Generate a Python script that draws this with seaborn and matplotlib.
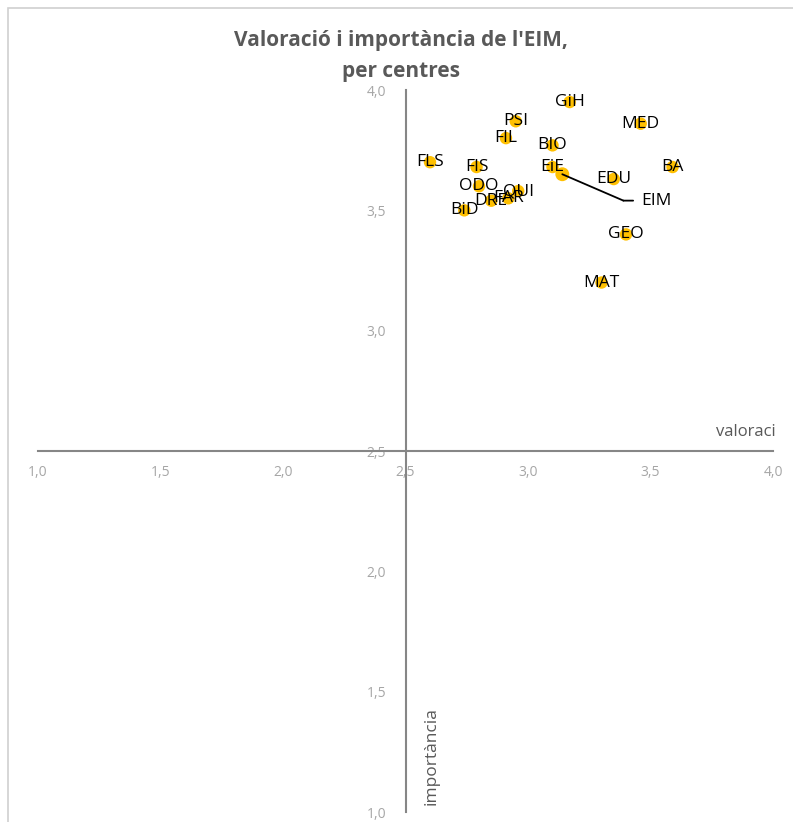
import matplotlib
matplotlib.use("Agg")
import matplotlib.pyplot as plt
import matplotlib.transforms as mtransforms
from matplotlib.patches import Rectangle
import seaborn as sns
import pandas as pd

# centres: valoració (x) i importància (y)
centres = ["GiH", "PSI", "MED", "FIL", "BIO", "FLS", "FIS", "EiE", "BA", "EDU",
           "ODO", "QUI", "FAR", "DRE", "BiD", "GEO", "MAT"]
valoracio = [3.17, 2.95, 3.46, 2.91, 3.10, 2.60, 2.79, 3.10, 3.59, 3.35,
             2.80, 2.96, 2.92, 2.85, 2.74, 3.40, 3.30]
importancia = [3.95, 3.87, 3.86, 3.80, 3.77, 3.70, 3.68, 3.68, 3.68, 3.63,
               3.60, 3.58, 3.55, 3.54, 3.50, 3.40, 3.20]

# global de l'EIM
eim_label = "EIM"
eim_valoracio = 3.14
eim_importancia = 3.65

ticks = [1.0, 1.5, 2.0, 2.5, 3.0, 3.5, 4.0]
tick_labels = ["1,0", "1,5", "2,0", "2,5", "3,0", "3,5", "4,0"]

df = pd.DataFrame({"centre": centres, "valoracio": valoracio, "importancia": importancia})

sns.set_style("white")
plt.rcParams["font.family"] = ["Open Sans", "DejaVu Sans"]

gold = "#FFC000"
axis_grey = "#868686"
tick_grey = "#A6A6A6"
text_grey = "#595959"

fig = plt.figure(figsize=(7.93, 8.22), dpi=100)
ax = fig.add_axes([38 / 793, 1 - 812 / 822, (773 - 38) / 793, (812 - 90) / 822])

# chart border like excel
fig.patches.append(Rectangle((8 / 793, -0.1), 1.2, 1 - 8 / 822 + 0.1, transform=fig.transFigure,
                             fill=False, edgecolor="#D0D0D0", linewidth=1.2))

sns.scatterplot(data=df, x="valoracio", y="importancia", ax=ax, color=gold, s=80,
                edgecolor="none", zorder=3, legend=False)
ax.scatter([eim_valoracio], [eim_importancia], color=gold, s=100, edgecolor="none", zorder=3)

for name, xv, yv in zip(centres, valoracio, importancia):
    ax.text(xv, yv, name, ha="center", va="center", fontsize=12.5, color="black", zorder=4)

# EIM label with leader line
line_kw = dict(arrowstyle="-", shrinkA=0, shrinkB=0, color="black", lw=1.3)
ax.annotate("", xy=(eim_valoracio, eim_importancia), xytext=(44, -19),
            textcoords="offset points", arrowprops=line_kw, zorder=4)
corner = mtransforms.offset_copy(ax.transData, fig=fig, x=44, y=-19, units="points")
ax.annotate("", xy=(eim_valoracio, eim_importancia), xycoords=corner, xytext=(7, 0),
            textcoords="offset points", arrowprops=line_kw, zorder=4)
ax.annotate(eim_label, xy=(eim_valoracio, eim_importancia), xytext=(57, -19),
            textcoords="offset points", ha="left", va="center", fontsize=12.5, color="black")

ax.set_xlim(1, 4)
ax.set_ylim(1, 4)
ax.set_xticks(ticks)
ax.set_xticklabels(tick_labels)
ax.set_yticks(ticks)
ax.set_yticklabels(tick_labels)
ax.set_xlabel("")
ax.set_ylabel("")

for side in ["top", "right"]:
    ax.spines[side].set_visible(False)
ax.spines["left"].set_position(("data", 2.5))
ax.spines["bottom"].set_position(("data", 2.5))
for side in ["left", "bottom"]:
    ax.spines[side].set_color(axis_grey)
    ax.spines[side].set_linewidth(1.5)
ax.tick_params(axis="both", direction="out", length=4, width=1.5, color=axis_grey,
               labelcolor=tick_grey, labelsize=10)
ax.tick_params(axis="x", pad=6)
ax.tick_params(axis="y", pad=10)

ax.text(4.01, 2.58, "valoraci", ha="right", va="center", fontsize=12, color=text_grey)
ax.text(2.605, 1.03, "importància", ha="center", va="bottom", rotation=90, fontsize=12.5,
        color=text_grey)

fig.text(0.506, 1 - 56 / 822, "Valoració i importància de l'EIM,\nper centres", ha="center",
         va="center", fontsize=15, fontweight="bold", color=text_grey, linespacing=1.6)

fig.savefig("out.png", dpi=100)
